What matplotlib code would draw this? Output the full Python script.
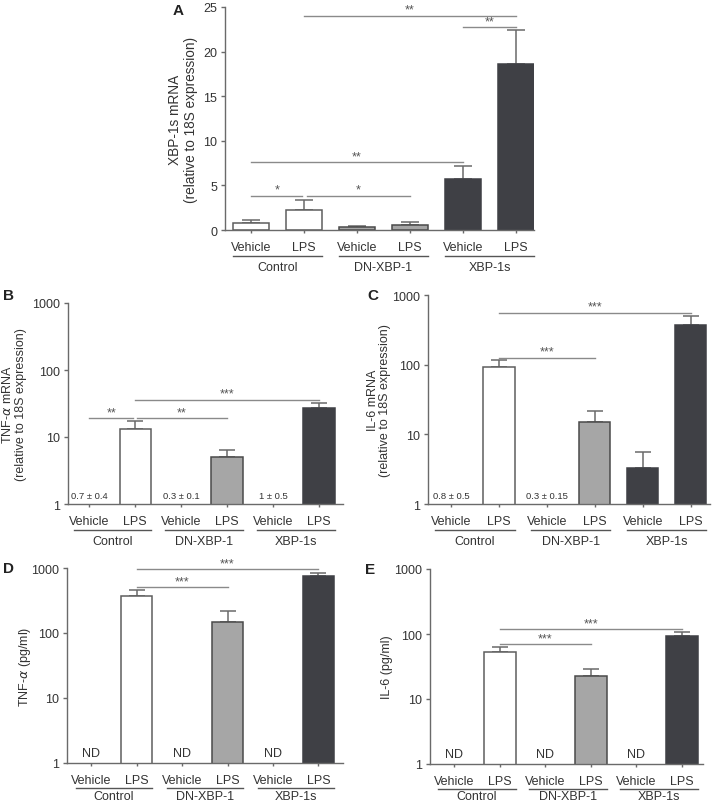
import matplotlib
matplotlib.use("Agg")
import matplotlib.pyplot as plt
import matplotlib.transforms as mtransforms
import numpy as np

plt.rcParams['font.family'] = ['Liberation Sans', 'DejaVu Sans']
plt.rcParams['mathtext.fontset'] = 'dejavusans'

# ---------------- data ----------------
groups = ["Control", "DN-XBP-1", "XBP-1s"]
treatments = ["Vehicle", "LPS", "Vehicle", "LPS", "Vehicle", "LPS"]

# Panel A: XBP-1s mRNA (linear)
a_mean = [0.8, 2.2, 0.35, 0.6, 5.7, 18.6]
a_err = [0.3, 1.15, 0.1, 0.25, 1.5, 3.8]
a_sig = [(1, 5, 24.0, "**"), (4, 5, 22.75, "**"), (0, 4, 7.6, "**"),
         (0, 0.97, 3.83, "*"), (1.05, 3, 3.83, "*")]

# Panel B: TNF-a mRNA (log) ; vehicle values below axis are given as text
b_mean = [np.nan, 13.2, np.nan, 5.0, np.nan, 27.4]
b_err = [0, 3.9, 0, 1.4, 0, 4.8]
b_notes = ["0.7 ± 0.4", None, "0.3 ± 0.1", None, "1 ± 0.5", None]
b_sig = [(0, 0.96, 19.2, "**"), (1.04, 3, 19.2, "**"), (1, 5, 36, "***")]

# Panel C: IL-6 mRNA (log)
c_mean = [np.nan, 94, np.nan, 15.1, 3.25, 368]
c_err = [0, 24.6, 0, 6.2, 2.25, 132]
c_notes = ["0.8 ± 0.5", None, "0.3 ± 0.15", None, None, None]
c_sig = [(1, 5, 558, "***"), (1, 3, 126, "***")]

# Panel D: TNF-a protein (log)
d_mean = [np.nan, 367, np.nan, 150, np.nan, 763]
d_err = [0, 98, 0, 66, 0, 76]
d_notes = ["ND", None, "ND", None, "ND", None]
d_sig = [(1, 5, 966, "***"), (1, 3, 505, "***")]

# Panel E: IL-6 protein (log)
e_mean = [np.nan, 53.5, np.nan, 22.6, np.nan, 94.2]
e_err = [0, 9.5, 0, 6.7, 0, 12.8]
e_notes = ["ND", None, "ND", None, "ND", None]
e_sig = [(1, 5, 118, "***"), (1, 3, 69, "***")]

# ---------------- style ----------------
fills = ["white", "white", "#a6a6a6", "#a6a6a6", "#3f4045", "#3f4045"]
edges = ["#5e5e5e", "#5e5e5e", "#4a4a4a", "#4a4a4a", "#3f4045", "#3f4045"]
AX_C = "#6a6a6a"
TXT_C = "#333333"
SIG_C = "#8a8a8a"
ERR_C = "#6a6a6a"
FS = 9

W, H = 715, 804
fig = plt.figure(figsize=(W / 100, H / 100), dpi=100)


def px_axes(l, r, t, b):
    return fig.add_axes([l / W, 1 - b / H, (r - l) / W, (b - t) / H])


def panel(ax, means, errs, xlim, ylim, log, width, capsize, sig, ylabel,
          ylab_dist, ylab_size, letter, letter_xy, notes=None, note_size=6.5,
          note_dy=6, line_dy=26, lab_dy=37):
    x = np.arange(6)
    if log:
        ax.set_yscale('log')
    ax.set_xlim(*xlim)
    ax.set_ylim(*ylim)
    for i in range(6):
        m = means[i]
        if np.isnan(m):
            continue
        ax.bar(x[i], m, width=width, color=fills[i], edgecolor=edges[i],
               linewidth=1.1, zorder=2)
        ax.errorbar(x[i], m, yerr=[[0], [errs[i]]], fmt='none', ecolor=ERR_C,
                    elinewidth=1.1, capsize=capsize, capthick=1.1, zorder=1)
    # spines
    for s in ['top', 'right']:
        ax.spines[s].set_visible(False)
    for s in ['left', 'bottom']:
        ax.spines[s].set_color(AX_C)
        ax.spines[s].set_linewidth(1.0)
    ax.set_xticks(x)
    ax.set_xticklabels(treatments)
    ax.tick_params(axis='x', length=2.5, width=1, color=AX_C, pad=5.5,
                   labelsize=FS, labelcolor=TXT_C)
    ax.tick_params(axis='y', length=3, width=1, color=AX_C, pad=2.5,
                   labelsize=FS, labelcolor=TXT_C)
    if log:
        ax.yaxis.set_major_locator(matplotlib.ticker.FixedLocator([1, 10, 100, 1000]))
        ax.yaxis.set_major_formatter(matplotlib.ticker.FixedFormatter(["1", "10", "100", "1000"]))
        ax.yaxis.set_minor_locator(matplotlib.ticker.NullLocator())
    else:
        ax.set_yticks([0, 5, 10, 15, 20, 25])
    # group lines and labels
    tline = mtransforms.offset_copy(ax.get_xaxis_transform(), fig=fig, y=-line_dy, units='dots')
    tlab = mtransforms.offset_copy(ax.get_xaxis_transform(), fig=fig, y=-lab_dy, units='dots')
    for g in range(3):
        x0 = 2 * g - width / 2
        x1 = 2 * g + 1 + width / 2
        ax.plot([x0, x1], [0, 0], transform=tline, color="#555555", lw=1.0,
                clip_on=False)
        ax.text(2 * g + 0.5, 0, groups[g], transform=tlab, ha='center',
                va='center', fontsize=FS, color=TXT_C, clip_on=False)
    # significance lines
    tstar = mtransforms.offset_copy(ax.transData, fig=fig, y=0, units='dots')
    for (x0, x1, y, lab) in sig:
        ax.plot([x0, x1], [y, y], color=SIG_C, lw=1.0, clip_on=False, zorder=3)
        ax.text((x0 + x1) / 2, y, lab, transform=tstar, ha='center',
                va='bottom', fontsize=9, color="#555555", clip_on=False)
    # notes above axis for undetectable / below-axis values
    if notes is not None:
        tnote = mtransforms.offset_copy(ax.get_xaxis_transform(), fig=fig,
                                        y=note_dy, units='dots')
        for i, n in enumerate(notes):
            if n:
                ax.text(x[i], 0, n, transform=tnote, ha='center', va='bottom',
                        fontsize=note_size, color=TXT_C)
    # y label
    ax.set_ylabel(ylabel, fontsize=ylab_size, color=TXT_C, linespacing=1.1)
    bbox = ax.get_position()
    ax.yaxis.set_label_coords(-ylab_dist / (bbox.width * W), 0.5)
    ax.yaxis.label.set_va('center')
    fig.text(letter_xy[0] / W, 1 - letter_xy[1] / H, letter, fontsize=11,
             fontweight='bold', color='#222222', ha='center', va='center')


axA = px_axes(225, 534, 8, 231)
panel(axA, a_mean, a_err, (-0.49, 5.34), (0, 25), False, 0.68, 6.5, a_sig,
      "XBP-1s mRNA\n(relative to 18S expression)", 42, 9.8, "A", (178, 11))

axB = px_axes(68, 343, 304, 505)
panel(axB, b_mean, b_err, (-0.46, 5.52), (1, 1000), True, 0.68, 5.7, b_sig,
      "TNF-$\\alpha$ mRNA\n(relative to 18S expression)", 54, 9, "B", (9, 296),
      notes=b_notes, note_size=6.8, note_dy=4)

axC = px_axes(428, 710, 296, 505)
panel(axC, c_mean, c_err, (-0.48, 5.4), (1, 1000), True, 0.65, 5.7, c_sig,
      "IL-6 mRNA\n(relative to 18S expression)", 49, 9, "C", (373, 296),
      notes=c_notes, note_size=6.8, note_dy=4)

axD = px_axes(67, 343, 569, 764)
panel(axD, d_mean, d_err, (-0.53, 5.54), (1, 1000), True, 0.68, 5.7, d_sig,
      "TNF-$\\alpha$ (pg/ml)", 42, 9, "D", (9, 569),
      notes=d_notes, note_size=9, note_dy=4, line_dy=25, lab_dy=33)

axE = px_axes(430, 703, 570, 765)
panel(axE, e_mean, e_err, (-0.53, 5.47), (1, 1000), True, 0.7, 5.7, e_sig,
      "IL-6 (pg/ml)", 43, 9, "E", (370, 570),
      notes=e_notes, note_size=9, note_dy=4, line_dy=25, lab_dy=32)

fig.savefig("out.png", dpi=100, facecolor="white")
